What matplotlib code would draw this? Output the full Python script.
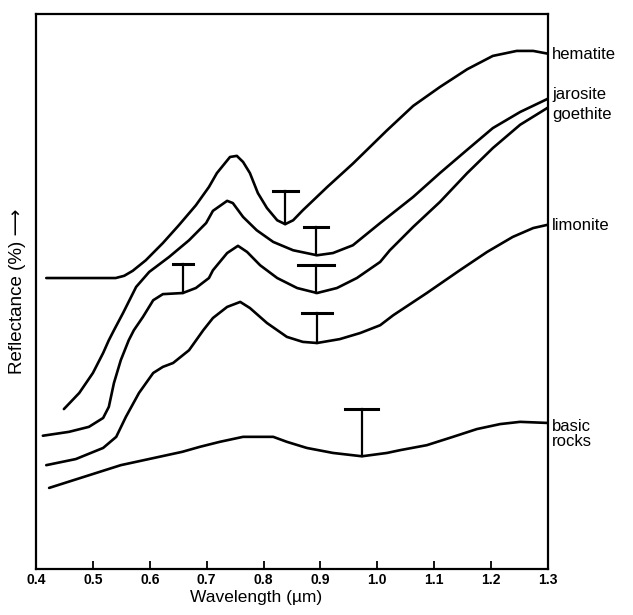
import matplotlib
matplotlib.use("Agg")
import matplotlib.pyplot as plt

plt.rcParams['font.family'] = ['Liberation Sans', 'DejaVu Sans']

# wavelength (um) / reflectance (arbitrary units, 0-100 over the plot height)
hem_x = [0.418, 0.540, 0.555, 0.570, 0.593, 0.623, 0.651, 0.681, 0.704, 0.718, 0.741, 0.753,
         0.764, 0.776, 0.790, 0.806, 0.824, 0.838, 0.852, 0.869, 0.912, 0.957, 1.017, 1.063,
         1.110, 1.158, 1.203, 1.245, 1.274, 1.30]
hem_y = [52.4, 52.4, 52.8, 53.7, 55.6, 58.7, 61.9, 65.5, 68.8, 71.3, 74.2, 74.4,
         73.3, 71.3, 67.7, 65.0, 62.8, 62.1, 62.8, 64.6, 68.8, 73.0, 79.0, 83.4,
         86.8, 90.0, 92.4, 93.3, 93.3, 92.8]

jar_x = [0.449, 0.476, 0.500, 0.518, 0.528, 0.537, 0.553, 0.576, 0.599, 0.634, 0.669, 0.699,
         0.711, 0.736, 0.746, 0.764, 0.788, 0.817, 0.852, 0.894, 0.922, 0.957, 1.005, 1.063,
         1.110, 1.158, 1.203, 1.251, 1.30]
jar_y = [28.8, 31.7, 35.3, 38.9, 41.2, 43.0, 46.1, 50.8, 53.5, 56.2, 59.2, 62.3,
         64.5, 66.3, 65.9, 63.4, 61.0, 58.9, 57.4, 56.5, 56.9, 58.3, 62.3, 67.0,
         71.3, 75.5, 79.4, 82.3, 84.7]

goe_x = [0.412, 0.458, 0.493, 0.518, 0.528, 0.537, 0.549, 0.563, 0.572, 0.588, 0.606, 0.623,
         0.658, 0.681, 0.704, 0.711, 0.736, 0.755, 0.771, 0.794, 0.824, 0.859, 0.894, 0.929,
         0.964, 1.005, 1.022, 1.063, 1.110, 1.158, 1.203, 1.251, 1.30]
goe_y = [24.0, 24.7, 25.6, 27.2, 29.2, 33.5, 37.6, 41.2, 43.0, 45.4, 48.4, 49.5,
         49.7, 50.6, 52.4, 53.8, 56.9, 58.2, 57.1, 54.7, 52.4, 50.6, 49.7, 50.6,
         52.4, 55.3, 57.4, 61.6, 66.1, 71.3, 75.8, 80.0, 83.1]

lim_x = [0.418, 0.470, 0.518, 0.541, 0.558, 0.581, 0.606, 0.623, 0.641, 0.669, 0.694, 0.711,
         0.736, 0.759, 0.776, 0.806, 0.841, 0.869, 0.894, 0.934, 0.970, 1.005, 1.028, 1.087,
         1.145, 1.193, 1.238, 1.274, 1.30]
lim_y = [18.7, 19.8, 21.8, 23.8, 27.4, 31.7, 35.3, 36.4, 37.1, 39.4, 43.0, 45.2,
         47.2, 48.1, 47.0, 44.3, 41.8, 40.9, 40.7, 41.4, 42.5, 43.9, 45.7, 49.7,
         53.8, 57.1, 59.8, 61.4, 62.0]

bas_x = [0.423, 0.549, 0.657, 0.688, 0.723, 0.764, 0.817, 0.841, 0.876, 0.922, 0.973, 1.017,
         1.040, 1.087, 1.133, 1.175, 1.216, 1.251, 1.30]
bas_y = [14.6, 18.7, 21.1, 22.0, 22.9, 23.8, 23.8, 22.9, 21.8, 20.9, 20.3, 20.9,
         21.4, 22.3, 23.8, 25.2, 26.1, 26.5, 26.3]

# absorption band depth markers
band_x = [0.838, 0.892, 0.892, 0.658, 0.894, 0.973]
band_low = [62.1, 56.5, 49.7, 49.7, 40.7, 20.3]
band_high = [68.1, 61.6, 54.7, 54.9, 46.1, 28.8]
band_cap = [0.022, 0.021, 0.031, 0.018, 0.026, 0.029]

names = ['hematite', 'jarosite', 'goethite', 'limonite', 'basic\nrocks']
name_y = [92.6, 85.5, 81.9, 61.8, 24.3]

fig = plt.figure(figsize=(6.33, 6.15), dpi=100)
ax = fig.add_axes([0.0569, 0.0748, 0.8088, 0.9029])

for xs, ys in [(hem_x, hem_y), (jar_x, jar_y), (goe_x, goe_y), (lim_x, lim_y), (bas_x, bas_y)]:
    ax.plot(xs, ys, color='black', lw=1.9, solid_capstyle='round', solid_joinstyle='round')

for bx, lo, hi, cw in zip(band_x, band_low, band_high, band_cap):
    ax.plot([bx, bx], [lo, hi], color='black', lw=1.6)
    ax.plot([bx - cw, bx + cw], [hi, hi], color='black', lw=2.2)

for nm, ny in zip(names, name_y):
    ax.text(1.307, ny, nm, fontsize=12, va='center', ha='left', linespacing=0.95, clip_on=False)

ax.set_xlim(0.4, 1.3)
ax.set_ylim(0, 100)
ax.set_xticks([0.4, 0.5, 0.6, 0.7, 0.8, 0.9, 1.0, 1.1, 1.2, 1.3])
ax.set_xticklabels(['0.4', '0.5', '0.6', '0.7', '0.8', '0.9', '1.0', '1.1', '1.2', '1.3'],
                   fontsize=10, fontweight='bold')
ax.set_yticks([])
ax.tick_params(axis='x', direction='in', length=6, width=1.3, pad=3, top=False)
for sp in ax.spines.values():
    sp.set_linewidth(1.6)

ax.set_xlabel('Wavelength (\u00b5m)', fontsize=12.5)
ax.xaxis.set_label_coords(0.43, -0.037)
fig.text(0.027, 1 - 291 / 615, 'Reflectance (%) \u27f6', rotation=90, fontsize=13.5,
         ha='center', va='center')

fig.savefig('out.png', dpi=100)
